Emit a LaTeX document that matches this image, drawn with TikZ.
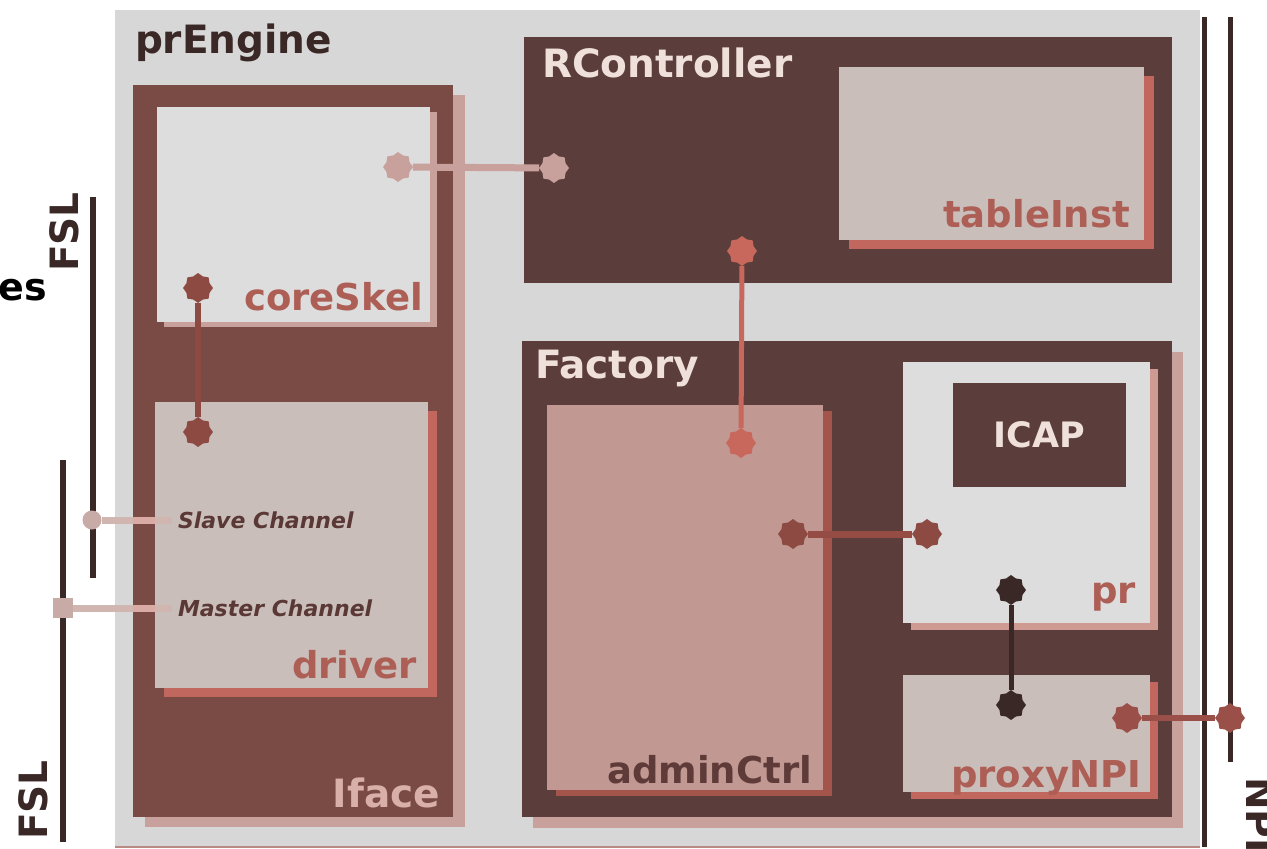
\documentclass[tikz,border=0pt]{standalone}
\usepackage{fontspec}
\setmainfont{DejaVu Sans}
\usetikzlibrary{shapes.geometric,shadows}
\definecolor{cBg}{HTML}{D7D7D7}
\definecolor{cIface}{HTML}{7A4A45}
\definecolor{cPinkSh}{HTML}{C9A19C}
\definecolor{cLight}{HTML}{DDDDDD}
\definecolor{cGrayPink}{HTML}{CABEBB}
\definecolor{cRedSh}{HTML}{C1675D}
\definecolor{cDark}{HTML}{5B3E3B}
\definecolor{cAdmin}{HTML}{C29893}
\definecolor{cAdminSh}{HTML}{A3554C}
\definecolor{cPrSh}{HTML}{CF9A92}
\definecolor{cTitle}{HTML}{EFE0DC}
\definecolor{cLabRed}{HTML}{AD5E55}
\definecolor{cIfaceLab}{HTML}{D9AFA9}
\definecolor{cAdminLab}{HTML}{5E3B38}
\definecolor{cInk}{HTML}{3A2826}
\definecolor{cChan}{HTML}{5A3836}
\definecolor{cSlave}{HTML}{D0B5B1}
\definecolor{cSlaveX}{HTML}{DAABA5}
\definecolor{cDot}{HTML}{C8AAA6}
\definecolor{cBrown}{HTML}{8C4A42}
\definecolor{cBrownL}{HTML}{944C44}
\definecolor{cCoral}{HTML}{C8685C}
\definecolor{cNpi}{HTML}{9A5048}
\definecolor{cEdge}{HTML}{B98A84}
\begin{document}
\begin{tikzpicture}[x=1pt,y=-1pt,
  box/.style={rectangle,draw=none,inner sep=0pt,outer sep=0pt,anchor=north west},
  shad/.style n args={3}{drop shadow={shadow xshift=#1pt,shadow yshift=-#2pt,fill=#3,opacity=1}},
  lbl/.style={inner sep=0pt,outer sep=0pt,font=\bfseries\fontsize{37}{37}\selectfont},
  biglbl/.style={inner sep=0pt,outer sep=0pt,font=\bfseries\fontsize{39}{39}\selectfont},
  chan/.style={inner sep=0pt,outer sep=0pt,anchor=west,text=cChan,font=\bfseries\itshape\fontsize{22}{22}\selectfont},
  port/.style={star,star points=8,star point ratio=1.2,minimum size=30pt,inner sep=0pt,outer sep=0pt,draw=none,fill=#1},
  bus/.style={line width=6pt,draw=cInk}
]
\useasboundingbox (0,0) rectangle (1267,849);
\clip (0,0) rectangle (1267,849);
\fill[white] (0,0) rectangle (1267,849);

% outer prEngine area
\node[box,fill=cBg,minimum width=1085pt,minimum height=836pt,shad={0}{2}{cEdge}] (outer) at (115,10) {};
\node[biglbl,text=cInk,anchor=base west] (prEngine) at (135,53) {prEngine};

% Iface
\node[box,fill=cIface,minimum width=320pt,minimum height=732pt,shad={12}{10}{cPinkSh}] (iface) at (133,85) {};
\node[biglbl,text=cIfaceLab,anchor=base east] (iface-l) at (440,807) {Iface};
\node[box,fill=cLight,minimum width=273pt,minimum height=215pt,shad={7}{5}{cPinkSh}] (coreSkel) at (157,107) {};
\node[lbl,text=cLabRed,anchor=base east] (coreSkel-l) at (423,310) {coreSkel};
\node[box,fill=cGrayPink,minimum width=273pt,minimum height=286pt,shad={9}{9}{cRedSh}] (driver) at (155,402) {};
\node[lbl,text=cLabRed,anchor=base east] (driver-l) at (417,678) {driver};

% RController
\node[box,fill=cDark,minimum width=648pt,minimum height=246pt] (rctrl) at (524,37) {};
\node[biglbl,text=cTitle,anchor=base west] (rctrl-l) at (542,77) {RController};
\node[box,fill=cGrayPink,minimum width=305pt,minimum height=173pt,shad={10}{9}{cRedSh}] (tableInst) at (839,67) {};
\node[lbl,text=cLabRed,anchor=base east] (tableInst-l) at (1130,227) {tableInst};

% Factory
\node[box,fill=cDark,minimum width=650pt,minimum height=476pt,shad={11}{11}{cPinkSh}] (factory) at (522,341) {};
\node[biglbl,text=cTitle,anchor=base west] (factory-l) at (535,378) {Factory};
\node[box,fill=cAdmin,minimum width=276pt,minimum height=385pt,shad={9}{6}{cAdminSh}] (adminCtrl) at (547,405) {};
\node[lbl,text=cAdminLab,anchor=base east] (adminCtrl-l) at (812,783) {adminCtrl};
\node[box,fill=cLight,minimum width=247pt,minimum height=261pt,shad={8}{7}{cPrSh}] (pr) at (903,362) {};
\node[lbl,text=cLabRed,anchor=base east] (pr-l) at (1136,603) {pr};
\node[box,fill=cDark,minimum width=173pt,minimum height=104pt,text=cTitle,font=\bfseries\fontsize{35}{35}\selectfont] (icap) at (953,383) {ICAP};
\node[box,fill=cGrayPink,minimum width=247pt,minimum height=117pt,shad={8}{7}{cRedSh}] (proxyNPI) at (903,675) {};
\node[lbl,text=cLabRed,anchor=base east] (proxyNPI-l) at (1141,787) {proxyNPI};

% buses
\coordinate (fsl1t) at (93,197);
\coordinate (fsl1b) at (93,578);
\coordinate (fsl2t) at (63,460);
\coordinate (fsl2b) at (63,842);
\coordinate (npi1t) at (1204,17);
\coordinate (npi1b) at (1204,847);
\coordinate (npi2t) at (1230,17);
\coordinate (npi2b) at (1230,762);
\draw[bus] (fsl1t) -- (fsl1b);
\draw[bus] (fsl2t) -- (fsl2b);
\draw[bus,line width=5pt] (npi1t) -- (npi1b);
\draw[bus,line width=5pt] (npi2t) -- (npi2b);
\node[inner sep=0pt,rotate=90,anchor=base,text=cInk,font=\bfseries\fontsize{39}{39}\selectfont] (fsl1-l) at (78,232) {FSL};
\node[inner sep=0pt,rotate=90,anchor=base,text=cInk,font=\bfseries\fontsize{39}{39}\selectfont] (fsl2-l) at (47,800) {FSL};
\node[inner sep=0pt,rotate=-90,anchor=base west,text=cInk,font=\bfseries\fontsize{39}{39}\selectfont] (npi-l) at (1246,777) {NPI};
\node[inner sep=0pt,anchor=base east,text=black,font=\bfseries\fontsize{38}{38}\selectfont] (es-l) at (47,300) {es};

% channels
\node[chan] (slave) at (178,520) {Slave Channel};
\node[chan] (master) at (178,608) {Master Channel};
\node[circle,fill=cDot,minimum size=19pt,inner sep=0pt] (slave-pt) at (92,520) {};
\node[rectangle,fill=cDot,minimum size=20pt,inner sep=0pt] (master-pt) at (63,608) {};
\coordinate (slave-end) at (172,520);
\coordinate (master-end) at (172,608);
\draw[line width=7pt,cSlave] (slave-pt) -- (slave-end);
\draw[line width=7pt,cSlave] (master-pt) -- (master-end);
\draw[line width=7pt,cSlaveX] (slave-pt -| iface.west) -- (slave-pt -| driver.west);
\draw[line width=7pt,cSlaveX] (master-pt -| iface.west) -- (master-pt -| driver.west);

% ports
\node[port=cPinkSh] (p1) at (398,167) {};
\node[port=cPinkSh] (p2) at (554,168) {};
\node[port=cBrown] (p3) at (198,288) {};
\node[port=cBrown] (p4) at (198,432) {};
\node[port=cCoral] (p5) at (742,251) {};
\node[port=cCoral] (p6) at (741,443) {};
\node[port=cBrown] (p7) at (793,534) {};
\node[port=cBrown] (p8) at (927,534) {};
\node[port=cInk] (p9) at (1011,590) {};
\node[port=cInk] (p10) at (1011,705) {};
\node[port=cNpi] (p11) at (1127,718) {};
\node[port=cNpi] (p12) at (1230,718) {};

\draw[line width=7pt,cPinkSh] (p1) -- (p2);
\draw[line width=6pt,cBrown] (p3) -- (p4);
\draw[line width=5pt,cCoral] (p5) -- (p6);
\draw[line width=7pt,cBrownL] (p7) -- (p8);
\draw[line width=5pt,cInk] (p9) -- (p10);
\draw[line width=6pt,cNpi] (p11) -- (p12);
\end{tikzpicture}
\end{document}
